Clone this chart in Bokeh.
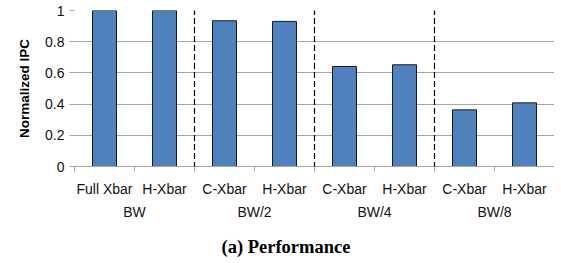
from bokeh.plotting import figure
from bokeh.models import (ColumnDataSource, LinearAxis, FixedTicker, Arrow, Title)
from bokeh.embed import file_html
from bokeh.resources import INLINE

# ---- data ----
groups = ["BW", "BW", "BW/2", "BW/2", "BW/4", "BW/4", "BW/8", "BW/8"]
configs = ["Full Xbar", "H-Xbar", "C-Xbar", "H-Xbar", "C-Xbar", "H-Xbar", "C-Xbar", "H-Xbar"]
ipc = [1.0, 1.0, 0.934, 0.930, 0.641, 0.652, 0.363, 0.408]
y_ticks = [0, 0.2, 0.4, 0.6, 0.8, 1.0]
y_tick_labels = ["0", "0.2", "0.4", "0.6", "0.8", "1"]

n = len(ipc)
xs = [i + 0.5 for i in range(n)]
src = ColumnDataSource(dict(x=xs, top=ipc, cfg=configs, grp=groups))

# group centres and boundaries
uniq = []
for g in groups:
    if g not in uniq:
        uniq.append(g)
grp_centres = []
boundaries = []
for g in uniq:
    idx = [i for i, gg in enumerate(groups) if gg == g]
    grp_centres.append((min(idx) + max(idx) + 1) / 2)
    boundaries.append(max(idx) + 1)
separators = boundaries[:-1]

GRID = "#a6a6a6"
FONT = "Liberation Sans"
TXT = "#111111"

p = figure(frame_width=480, frame_height=156, x_range=(0, n), y_range=(0, 1),
           output_backend="svg", toolbar_location=None, x_axis_location=None,
           min_border_left=74, min_border_right=0, min_border_top=10, min_border_bottom=92)
p.outline_line_color = None
p.background_fill_color = "white"

p.vbar(x="x", top="top", width=0.4, source=src, fill_color="#4F81BD",
       line_color="#1a1a1a", line_width=1)

# y axis
ya = p.yaxis[0]
ya.ticker = FixedTicker(ticks=y_ticks)
ya.major_label_overrides = {t: l for t, l in zip(y_ticks, y_tick_labels)}
ya.axis_line_color = None
ya.major_tick_line_color = GRID
ya.major_tick_out = 5
ya.major_tick_in = 0
ya.minor_tick_line_color = None
ya.major_label_text_font = FONT
ya.major_label_text_font_size = "14px"
ya.major_label_text_color = TXT
ya.major_label_standoff = 5
ya.axis_label = "Normalized IPC"
ya.axis_label_text_font = FONT
ya.axis_label_text_font_style = "bold"
ya.axis_label_text_font_size = "13.5px"
ya.axis_label_text_color = "black"
ya.axis_label_standoff = 10
p.ygrid.ticker = FixedTicker(ticks=y_ticks)
p.ygrid.grid_line_color = GRID
p.xgrid.grid_line_color = None

# x axis 1: configuration labels, boundary ticks
xa = LinearAxis(ticker=FixedTicker(ticks=xs, minor_ticks=list(range(n + 1))))
xa.major_label_overrides = {x: c for x, c in zip(xs, configs)}
xa.axis_line_color = GRID
xa.major_tick_line_color = None
xa.major_tick_out = 0
xa.major_tick_in = 0
xa.minor_tick_line_color = GRID
xa.minor_tick_out = 5
xa.minor_tick_in = 0
xa.major_label_text_font = FONT
xa.major_label_text_font_size = "14px"
xa.major_label_text_color = TXT
xa.major_label_standoff = 9
p.add_layout(xa, "below")

# x axis 2: group labels
xa2 = LinearAxis(ticker=FixedTicker(ticks=grp_centres, minor_ticks=[]))
xa2.major_label_overrides = {x: g for x, g in zip(grp_centres, uniq)}
xa2.axis_line_color = None
xa2.major_tick_line_color = None
xa2.minor_tick_line_color = None
xa2.major_tick_out = 0
xa2.major_tick_in = 0
xa2.major_label_text_font = FONT
xa2.major_label_text_font_size = "14px"
xa2.major_label_text_color = TXT
xa2.major_label_standoff = 4
p.add_layout(xa2, "below")

# dashed separators
for s in separators:
    p.add_layout(Arrow(end=None, x_start=s, y_start=1.01, x_end=s, y_end=-0.38,
                       line_color="black", line_dash="6 3", line_width=1.2))

title = Title(text="(a) Performance", align="left", offset=147,
              text_font="Liberation Serif", text_font_style="bold",
              text_font_size="18.5px", text_color="black", standoff=25)
p.add_layout(title, "below")

open("out.html", "w").write(file_html(p, INLINE))
